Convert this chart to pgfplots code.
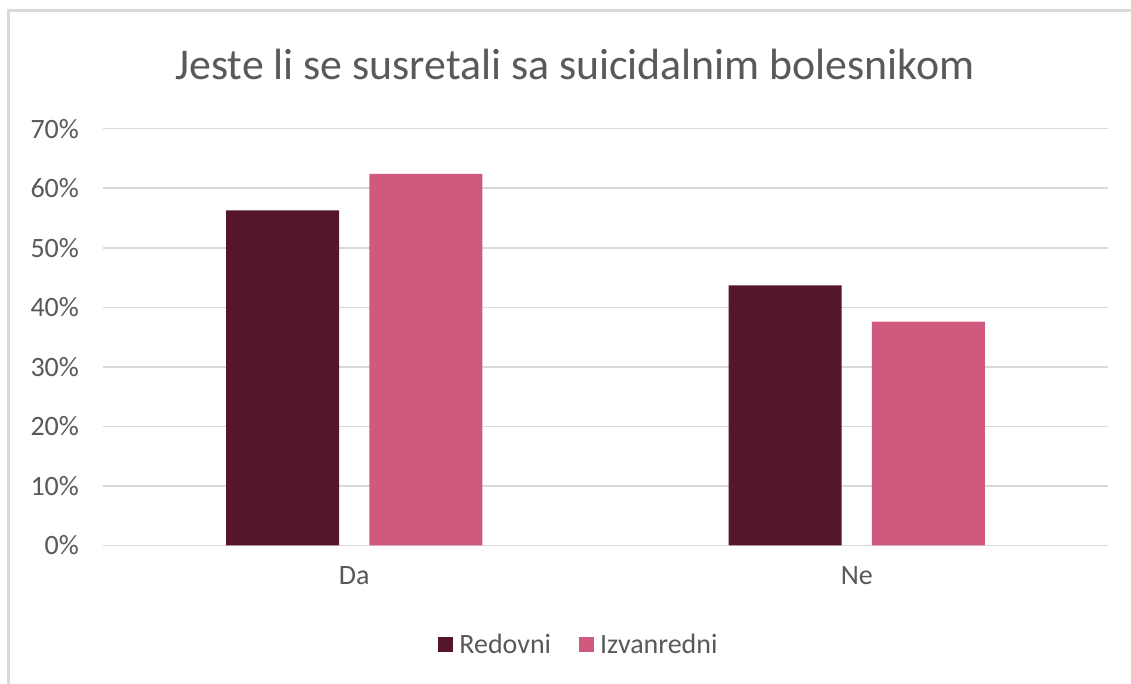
\documentclass[border=0pt]{standalone}
\usepackage{pgfplots}
\pgfplotsset{compat=1.18}
\usepackage{fontspec}
\setmainfont{Carlito}
\definecolor{redovni}{HTML}{541628}
\definecolor{izvanredni}{HTML}{D05A7E}
\definecolor{txt}{HTML}{595959}
\definecolor{gridgray}{HTML}{D9D9D9}

% 1 px of the reference = 0.5pt
\begin{document}
\begin{tikzpicture}
\useasboundingbox (0,0) rectangle (565.5pt,342pt);
\fill[white] (0,0) rectangle (565.5pt,342pt);
\draw[gridgray, line width=1.5pt] (4.25pt,0) -- (4.25pt,336.75pt) -- (565.5pt,336.75pt);
\node[anchor=base, text=txt, font=\fontsize{21.9}{26}\selectfont] at (287.5pt,302pt)
  {Jeste li se susretali sa suicidalnim bolesnikom};
\begin{axis}[
    at={(51.5pt,69.25pt)}, anchor=south west,
    scale only axis,
    width=502.5pt, height=208.4pt,
    ybar=0pt,
    bar width=0.225,
    xmin=-0.5, xmax=1.5,
    ymin=0, ymax=70,
    xtick={0,1}, xticklabels={Da,Ne},
    ytick={0,10,...,70},
    yticklabel={\pgfmathprintnumber{\tick}\%},
    /pgf/number format/assume math mode=true,
    axis line style={draw=none},
    major tick length=0pt,
    xmajorgrids=false,
    ymajorgrids=true,
    major grid style={draw=gridgray, line width=0.75pt},
    tick label style={text=txt, font=\fontsize{14}{17}\selectfont},
    yticklabel style={xshift=-8.5pt},
    xticklabel style={yshift=-7pt},
    legend columns=2,
    legend style={at={(rel axis cs:0.4746,-0.2387)}, anchor=center, draw=none,
      fill=none, text=txt, font=\fontsize{14}{17}\selectfont,
      /tikz/every even column/.append style={column sep=12pt}},
    legend image code/.code={\fill[#1] (0pt,-3.75pt) rectangle (7.5pt,3.75pt);},
    legend cell align=left,
    clip=false,
  ]
\addplot[fill=redovni, draw=none, bar shift=-0.1425] coordinates {(0,56.3) (1,43.7)};
\addplot[fill=izvanredni, draw=none, bar shift=0.1425] coordinates {(0,62.4) (1,37.6)};
\legend{\hspace{1pt}Redovni,\hspace{1pt}Izvanredni}
\end{axis}
\end{tikzpicture}
\end{document}
